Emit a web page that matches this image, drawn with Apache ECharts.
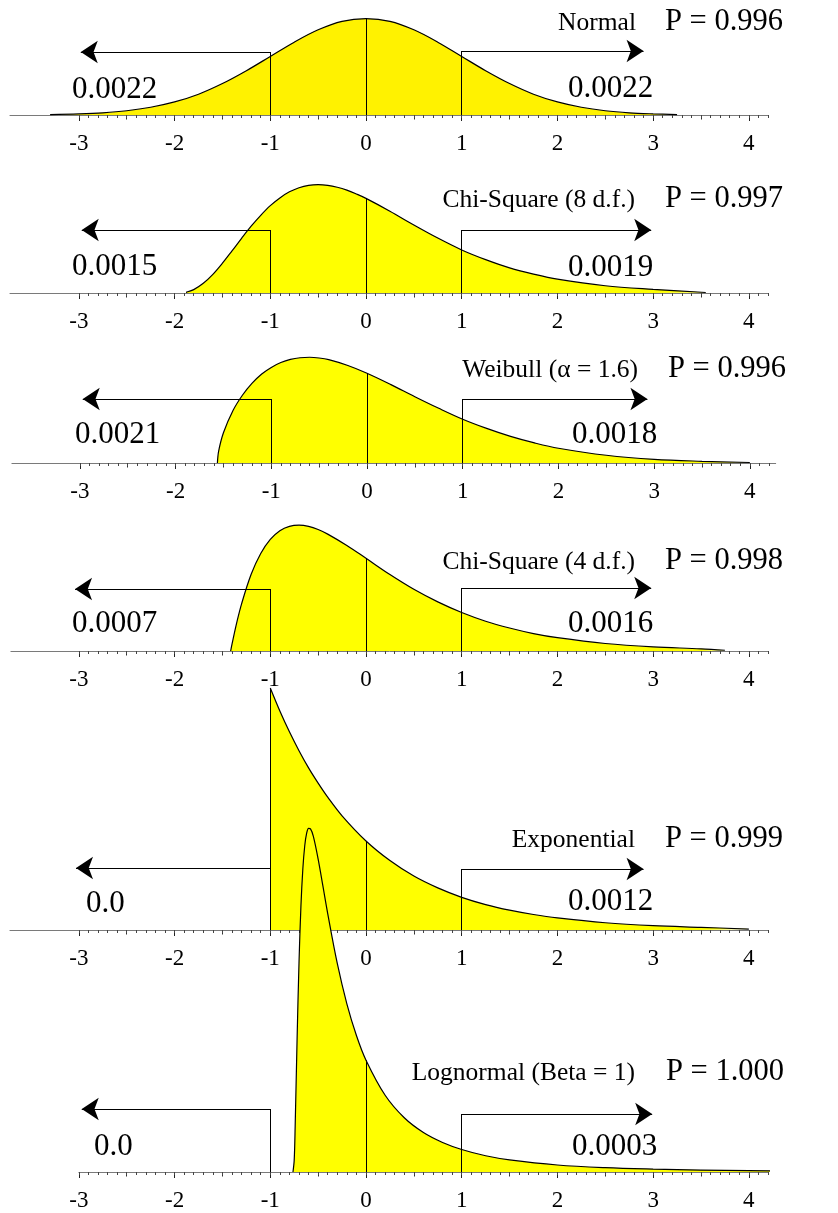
<!DOCTYPE html>
<html>
<head>
<meta charset="utf-8">
<script src="https://cdn.jsdelivr.net/npm/echarts@6/dist/echarts.min.js"></script>
<style>html,body{margin:0;padding:0;background:#fff}#c{width:838px;height:1213px}</style>
</head>
<body>
<div id="c"></div>
<script>
// ---------- data ----------
const tickLabels = [-3, -2, -1, 0, 1, 2, 3, 4];
const halfTicks = [-2.5, -1.5, -0.5, 0.5, 1.5, 2.5, 3.5];
const distNames = ['Normal', 'Chi-Square (8 d.f.)', 'Weibull (\u03B1 = 1.6)', 'Chi-Square (4 d.f.)', 'Exponential', 'Lognormal (Beta = 1)'];
const pValues = ['P = 0.996', 'P = 0.997', 'P = 0.996', 'P = 0.998', 'P = 0.999', 'P = 1.000'];
const leftTail = ['0.0022', '0.0015', '0.0021', '0.0007', '0.0', '0.0'];
const rightTail = ['0.0022', '0.0019', '0.0018', '0.0016', '0.0012', '0.0003'];

const normalCurve = [[-3.3,0.0015],[-3.0,0.0045],[-2.75,0.009],[-2.5,0.0175],[-2.25,0.032],[-2.0,0.054],[-1.75,0.086],[-1.5,0.13],[-1.25,0.183],[-1.0,0.242],[-0.75,0.301],[-0.5,0.352],[-0.25,0.387],[0,0.398],[0.25,0.387],[0.5,0.352],[0.75,0.301],[1.0,0.242],[1.25,0.183],[1.5,0.13],[1.75,0.086],[2.0,0.054],[2.25,0.032],[2.5,0.0175],[2.75,0.009],[3.0,0.0045],[3.25,0.0015]];
const chi8Curve = [[-1.88,0.003],[-1.8,0.014],[-1.7,0.04],[-1.6,0.077],[-1.5,0.123],[-1.4,0.174],[-1.3,0.226],[-1.2,0.276],[-1.1,0.321],[-1.0,0.361],[-0.9,0.393],[-0.8,0.418],[-0.7,0.435],[-0.6,0.445],[-0.5,0.448],[-0.4,0.445],[-0.3,0.437],[-0.2,0.425],[-0.1,0.409],[0,0.391],[0.25,0.338],[0.5,0.281],[0.75,0.227],[1.0,0.178],[1.25,0.138],[1.5,0.104],[1.75,0.078],[2.0,0.057],[2.5,0.030],[3.0,0.015],[3.55,0.002]];
const weibullCurve = [[-1.563,0],[-1.55,0.049],[-1.5,0.125],[-1.4,0.217],[-1.3,0.281],[-1.2,0.330],[-1.1,0.368],[-1.0,0.395],[-0.9,0.415],[-0.8,0.428],[-0.7,0.435],[-0.6,0.437],[-0.5,0.434],[-0.4,0.427],[-0.2,0.403],[0,0.371],[0.25,0.324],[0.5,0.274],[0.75,0.226],[1.0,0.181],[1.25,0.143],[1.5,0.110],[1.75,0.083],[2.0,0.061],[2.5,0.032],[3.0,0.015],[3.5,0.007],[4.0,0.002]];
const chi4Curve = [[-1.414,0],[-1.4,0.028],[-1.35,0.118],[-1.3,0.195],[-1.2,0.317],[-1.1,0.403],[-1.0,0.461],[-0.9,0.497],[-0.8,0.515],[-0.7,0.520],[-0.6,0.515],[-0.5,0.502],[-0.4,0.483],[-0.2,0.436],[0,0.383],[0.25,0.316],[0.5,0.255],[0.75,0.203],[1.0,0.159],[1.25,0.123],[1.5,0.095],[1.75,0.072],[2.0,0.055],[2.5,0.031],[3.0,0.017],[3.5,0.009],[3.75,0.003]];
const expCurve = [[-1.0,1.0],[-0.9,0.905],[-0.8,0.819],[-0.7,0.741],[-0.6,0.670],[-0.5,0.607],[-0.4,0.549],[-0.25,0.472],[0,0.368],[0.25,0.287],[0.5,0.223],[0.75,0.174],[1.0,0.135],[1.25,0.105],[1.5,0.082],[1.75,0.064],[2.0,0.050],[2.5,0.030],[3.0,0.018],[3.5,0.011],[4.0,0.004]];
const lognormCurve = [[-0.763,0],[-0.75,0.05],[-0.74,0.19],[-0.72,0.55],[-0.70,0.865],[-0.68,1.097],[-0.66,1.252],[-0.64,1.348],[-0.62,1.400],[-0.60,1.420],[-0.58,1.418],[-0.55,1.387],[-0.5,1.293],[-0.45,1.181],[-0.4,1.068],[-0.3,0.862],[-0.2,0.695],[-0.1,0.564],[0,0.462],[0.2,0.317],[0.4,0.224],[0.6,0.163],[0.8,0.122],[1.0,0.093],[1.25,0.067],[1.5,0.050],[2.0,0.029],[2.5,0.018],[3.0,0.012],[3.5,0.008],[4.0,0.0055],[4.5,0.004],[4.95,0.003]];
const curves = [normalCurve, chi8Curve, weibullCurve, chi4Curve, expCurve, lognormCurve];

// ---------- layout (pixels / styling) ----------
const PX = 95.71;   // pixels per x unit
const S = 242;      // pixels per density unit
const FONT = '"Liberation Serif","Times New Roman",serif';
const layout = [
  {base:115,  zero:366, min:-3.72, max:4.2,  aL:63, aR:64, tipL:-2.98, tipR:2.90, fill:'#fff200', nameR:636, nameY:32,   pX:665, pY:32,   lX:72, lY:100,  rX:568, rY:99},
  {base:293,  zero:366, min:-3.72, max:4.2,  aL:63, aR:63, tipL:-2.97, tipR:2.98, fill:'#ffff00', nameR:635, nameY:209,  pX:665, pY:209,  lX:72, lY:277,  rX:568, rY:278},
  {base:463,  zero:367, min:-3.71, max:4.27, aL:64, aR:64, tipL:-2.97, tipR:2.93, fill:'#ffff00', nameR:638, nameY:379,  pX:668, pY:379,  lX:75, lY:445,  rX:572, rY:445},
  {base:651,  zero:366, min:-3.71, max:4.2,  aL:62, aR:63, tipL:-3.04, tipR:2.98, fill:'#ffff00', nameR:635, nameY:571,  pX:665, pY:571,  lX:72, lY:634,  rX:568, rY:634},
  {base:930,  zero:366, min:-3.72, max:4.2,  aL:62, aR:61, tipL:-3.03, tipR:2.90, fill:'#ffff00', nameR:635, nameY:849,  pX:665, pY:849,  lX:86, lY:914,  rX:568, rY:912},
  {base:1172, zero:366, min:-3.0,  max:4.2,  aL:63, aR:58, tipL:-2.97, tipR:2.99, fill:'#ffff00', nameR:635, nameY:1082, pX:666, pY:1082, lX:94, lY:1157, rX:572, rY:1157}
];

const minorTicks = [];
for (let k = -30; k <= 42; k++) minorTicks.push(k / 10);

const grids = [], xAxes = [], yAxes = [], series = [], graphics = [];

layout.forEach((L, i) => {
  const curve = curves[i];
  const ymax = Math.max(...curve.map(p => p[1])) * 1.05;
  const h = ymax * S;
  grids.push({
    left: L.zero + L.min * PX, top: L.base - h,
    width: (L.max - L.min) * PX, height: h,
    containLabel: false, outerBoundsMode: 'none', show: false
  });
  const base = {gridIndex: i, type: 'value', position: 'bottom', min: L.min, max: L.max, splitLine: {show: false}};
  xAxes.push(Object.assign({}, base, {
    axisLine: {show: true, onZero: false, lineStyle: {color: '#7a7a7a', width: 1}},
    axisTick: {show: true, length: 6, customValues: tickLabels, lineStyle: {color: '#222', width: 1}},
    axisLabel: {show: true, customValues: tickLabels, fontFamily: FONT, fontSize: 23, color: '#000', margin: 17,
                formatter: v => String(Math.round(v))}
  }));
  xAxes.push(Object.assign({}, base, {
    axisLine: {show: false, onZero: false},
    axisTick: {show: true, length: 4.5, customValues: halfTicks, lineStyle: {color: '#333', width: 1}},
    axisLabel: {show: false, customValues: halfTicks}
  }));
  xAxes.push(Object.assign({}, base, {
    axisLine: {show: false, onZero: false},
    axisTick: {show: true, length: 3, customValues: minorTicks, lineStyle: {color: '#444', width: 1}},
    axisLabel: {show: false, customValues: minorTicks}
  }));
  yAxes.push({gridIndex: i, type: 'value', min: 0, max: ymax, show: false});

  const xi = i * 3;
  series.push({
    type: 'line', xAxisIndex: xi, yAxisIndex: i, data: curve,
    smooth: 0.35, symbol: 'none', clip: false,
    lineStyle: {color: '#000', width: 1.2},
    areaStyle: {color: L.fill, opacity: 1},
    z: 2 + i, silent: true
  });

  const at0 = curve.find(p => p[0] === 0)[1];
  const yl = L.aL / S, yr = L.aR / S;
  const segs = [
    {coords: [[-1, 0], [-1, yl]]},
    {coords: [[0, 0], [0, at0]]},
    {coords: [[1, 0], [1, yr]]}
  ];
  if (curve[0][1] > 0) segs.push({coords: [[curve[0][0], 0], [curve[0][0], curve[0][1]]]});
  series.push({
    type: 'lines', coordinateSystem: 'cartesian2d', xAxisIndex: xi, yAxisIndex: i,
    data: segs, symbol: ['none', 'none'], clip: false,
    lineStyle: {color: '#000', width: 1, opacity: 1, curveness: 0},
    z: 2 + i, silent: true
  });
  series.push({
    type: 'lines', coordinateSystem: 'cartesian2d', xAxisIndex: xi, yAxisIndex: i,
    data: [{coords: [[-1, yl], [L.tipL, yl]]}, {coords: [[1, yr], [L.tipR, yr]]}],
    symbol: ['none', 'arrow'], symbolSize: [17, 17], clip: false,
    lineStyle: {color: '#000', width: 1, opacity: 1, curveness: 0},
    itemStyle: {color: '#000'},
    z: 2 + i, silent: true
  });

  const txt = (text, x, yBase, size, align) => ({
    type: 'text', x: x, y: yBase - 0.34 * size, z: 100, silent: true,
    style: {text: text, font: size + 'px ' + FONT, fill: '#000', textAlign: align, textVerticalAlign: 'middle'}
  });
  graphics.push(txt(distNames[i], L.nameR, L.nameY, 25.5, 'right'));
  graphics.push(txt(pValues[i], L.pX, L.pY, 30.5, 'left'));
  graphics.push(txt(leftTail[i], L.lX, L.lY, 31, 'left'));
  graphics.push(txt(rightTail[i], L.rX, L.rY, 31, 'left'));
});

const chart = echarts.init(document.getElementById('c'), null, {renderer: 'canvas'});
chart.setOption({
  animation: false,
  backgroundColor: '#fff',
  grid: grids, xAxis: xAxes, yAxis: yAxes, series: series, graphic: graphics
});
</script>
</body>
</html>
